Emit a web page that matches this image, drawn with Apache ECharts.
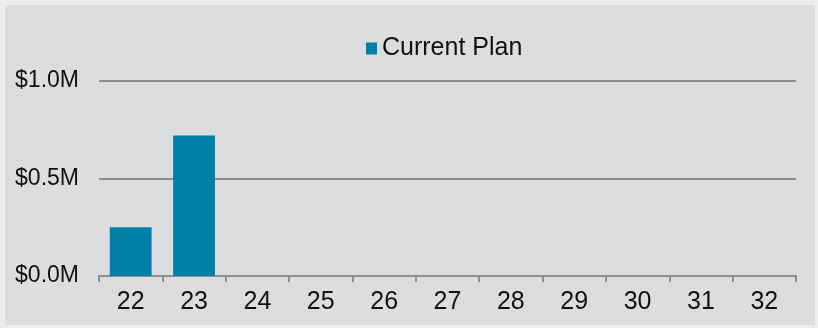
<!DOCTYPE html>
<html>
<head>
<meta charset="utf-8">
<script src="https://cdn.jsdelivr.net/npm/echarts@6/dist/echarts.min.js"></script>
<style>
html,body{margin:0;padding:0;background:#ededed;}
#c{width:818px;height:328px;}
</style>
</head>
<body>
<div id="c"></div>
<script>
const categories = ['22','23','24','25','26','27','28','29','30','31','32'];
const currentPlan = [0.25, 0.72, 0, 0, 0, 0, 0, 0, 0, 0, 0];
const seriesName = 'Current Plan';
const yTicks = [0, 0.5, 1.0];

const chart = echarts.init(document.getElementById('c'));
chart.setOption({
  backgroundColor: '#ededed',
  animation: false,
  graphic: [{
    type: 'rect', z: -10, silent: true,
    shape: {x: 5, y: 5, width: 810, height: 320},
    style: {fill: '#dcdddf'}
  }],
  legend: {
    top: 31, left: 361,
    itemWidth: 11, itemHeight: 12, icon: 'rect', itemGap: 5,
    textStyle: {fontFamily: 'Liberation Sans, Arial', fontSize: 25, color: '#111'},
    data: [seriesName]
  },
  grid: {left: 99, right: 22, top: 81, bottom: 52},
  xAxis: {
    type: 'category', data: categories, boundaryGap: true,
    axisLine: {lineStyle: {color: '#8e8e8e', width: 2}},
    axisTick: {show: true, length: 6, alignWithLabel: false, lineStyle: {color: '#8e8e8e', width: 2}},
    axisLabel: {fontFamily: 'Liberation Sans, Arial', fontSize: 25, color: '#111', margin: 14}
  },
  yAxis: {
    type: 'value', min: yTicks[0], max: yTicks[yTicks.length-1], interval: 0.5,
    axisLine: {show: false}, axisTick: {show: false},
    splitLine: {lineStyle: {color: '#8e8e8e', width: 2}},
    axisLabel: {fontFamily: 'Liberation Sans, Arial', fontSize: 23, color: '#111', margin: 20,
      formatter: v => '$' + v.toFixed(1) + 'M'}
  },
  series: [{
    name: seriesName, type: 'bar', data: currentPlan,
    barWidth: '66%',
    itemStyle: {color: '#007fa7'}
  }]
});
</script>
</body>
</html>
